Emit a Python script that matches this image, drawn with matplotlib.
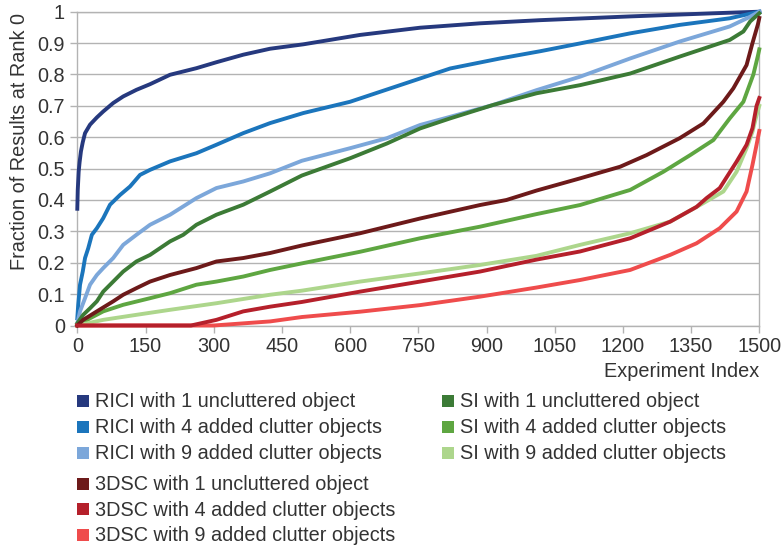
import matplotlib
matplotlib.use("Agg")
import matplotlib.pyplot as plt
from matplotlib.patches import Rectangle

plt.rcParams['font.family'] = ['Liberation Sans', 'DejaVu Sans']

# Sorted per-experiment fraction of results at rank 0 (x = experiment index)
rici1_x = [0, 1, 3, 5, 8, 12, 17, 28, 43, 57, 79, 101, 130, 160, 204, 262, 306, 365, 424, 497,
           622, 754, 886, 1018, 1216, 1400, 1500]
rici1_y = [0.372, 0.432, 0.49, 0.52, 0.555, 0.584, 0.613, 0.64, 0.663, 0.682, 0.709, 0.73, 0.751,
           0.769, 0.799, 0.82, 0.839, 0.863, 0.882, 0.896, 0.926, 0.949, 0.963, 0.973, 0.985, 0.995, 1.0]

rici4_x = [0, 2, 6, 12, 17, 24, 32, 43, 57, 72, 94, 116, 138, 160, 204, 262, 306, 365, 424, 497,
           600, 710, 820, 930, 1018, 1106, 1216, 1325, 1435, 1500]
rici4_y = [0.023, 0.066, 0.13, 0.172, 0.215, 0.246, 0.289, 0.31, 0.342, 0.385, 0.416, 0.443, 0.48,
           0.496, 0.523, 0.549, 0.576, 0.613, 0.645, 0.677, 0.713, 0.766, 0.819, 0.851, 0.874, 0.899,
           0.931, 0.958, 0.979, 1.0]

rici9_x = [0, 6, 17, 28, 43, 57, 79, 101, 130, 160, 204, 262, 306, 365, 424, 494, 600, 681, 754,
           820, 915, 1010, 1106, 1216, 1325, 1435, 1480, 1500]
rici9_y = [0.007, 0.045, 0.087, 0.13, 0.161, 0.183, 0.215, 0.257, 0.289, 0.321, 0.353, 0.406, 0.438,
           0.459, 0.485, 0.525, 0.565, 0.597, 0.639, 0.665, 0.703, 0.75, 0.793, 0.851, 0.905, 0.953,
           0.984, 1.0]

si1_x = [0, 13, 28, 43, 57, 79, 101, 130, 160, 204, 233, 262, 306, 365, 424, 494, 600, 681, 754,
         820, 915, 1010, 1106, 1216, 1325, 1435, 1465, 1480, 1500]
si1_y = [0.007, 0.034, 0.055, 0.077, 0.108, 0.14, 0.172, 0.204, 0.225, 0.268, 0.289, 0.321, 0.353,
         0.385, 0.427, 0.478, 0.533, 0.58, 0.628, 0.66, 0.703, 0.74, 0.766, 0.803, 0.857, 0.91, 0.937,
         0.969, 0.995]

si4_x = [0, 28, 57, 101, 160, 204, 262, 306, 365, 424, 494, 622, 754, 886, 1010, 1106, 1216, 1289,
         1348, 1399, 1435, 1465, 1487, 1497, 1500]
si4_y = [0.0, 0.023, 0.045, 0.066, 0.087, 0.103, 0.13, 0.14, 0.156, 0.177, 0.198, 0.235, 0.278,
         0.315, 0.355, 0.384, 0.432, 0.49, 0.543, 0.591, 0.66, 0.713, 0.80, 0.86, 0.88]

si9_x = [0, 57, 130, 204, 306, 424, 494, 622, 754, 886, 1010, 1106, 1216, 1304, 1377, 1421, 1450,
         1472, 1485, 1494, 1500]
si9_y = [0.0, 0.018, 0.034, 0.05, 0.071, 0.098, 0.111, 0.14, 0.166, 0.193, 0.222, 0.257, 0.294,
         0.331, 0.39, 0.427, 0.49, 0.565, 0.618, 0.67, 0.70]

dsc1_x = [0, 13, 43, 79, 101, 130, 160, 204, 262, 306, 365, 424, 494, 622, 754, 886, 944, 1010,
          1106, 1194, 1252, 1325, 1377, 1421, 1443, 1472, 1485, 1497, 1500]
dsc1_y = [0.0, 0.018, 0.045, 0.077, 0.098, 0.119, 0.14, 0.161, 0.183, 0.204, 0.215, 0.231, 0.255,
          0.294, 0.341, 0.384, 0.40, 0.43, 0.469, 0.506, 0.543, 0.597, 0.644, 0.713, 0.756, 0.83,
          0.9, 0.96, 0.98]

dsc4_x = [0, 250, 306, 365, 424, 494, 622, 754, 886, 1010, 1106, 1216, 1304, 1362, 1384, 1413,
          1450, 1472, 1485, 1494, 1500]
dsc4_y = [0.0, 0.0, 0.018, 0.045, 0.06, 0.075, 0.108, 0.14, 0.172, 0.21, 0.236, 0.278, 0.331,
          0.378, 0.406, 0.438, 0.522, 0.576, 0.629, 0.70, 0.725]

dsc9_x = [0, 300, 424, 494, 622, 754, 886, 1010, 1106, 1216, 1304, 1362, 1413, 1450, 1472, 1485,
          1494, 1500]
dsc9_y = [0.0, 0.0, 0.013, 0.027, 0.044, 0.065, 0.092, 0.121, 0.145, 0.177, 0.225, 0.262, 0.31,
          0.363, 0.427, 0.512, 0.576, 0.62]

labels = {
    'rici1': 'RICI with 1 uncluttered object',
    'rici4': 'RICI with 4 added clutter objects',
    'rici9': 'RICI with 9 added clutter objects',
    'si1': 'SI with 1 uncluttered object',
    'si4': 'SI with 4 added clutter objects',
    'si9': 'SI with 9 added clutter objects',
    'dsc1': '3DSC with 1 uncluttered object',
    'dsc4': '3DSC with 4 added clutter objects',
    'dsc9': '3DSC with 9 added clutter objects',
}
colors = {
    'rici1': '#26397e', 'rici4': '#1b75bc', 'rici9': '#7ca7da',
    'si1': '#3c7b36', 'si4': '#5ea641', 'si9': '#add68c',
    'dsc1': '#6d1a1a', 'dsc4': '#b5202b', 'dsc9': '#ef4c4c',
}
series = {
    'rici1': (rici1_x, rici1_y), 'rici4': (rici4_x, rici4_y), 'rici9': (rici9_x, rici9_y),
    'si1': (si1_x, si1_y), 'si4': (si4_x, si4_y), 'si9': (si9_x, si9_y),
    'dsc1': (dsc1_x, dsc1_y), 'dsc4': (dsc4_x, dsc4_y), 'dsc9': (dsc9_x, dsc9_y),
}
draw_order = ['rici1', 'rici4', 'rici9', 'si1', 'si4', 'si9', 'dsc9', 'dsc1', 'dsc4']

x_ticks = list(range(0, 1501, 150))
y_ticks = [i / 10 for i in range(11)]
y_tick_labels = ['0', '0.1', '0.2', '0.3', '0.4', '0.5', '0.6', '0.7', '0.8', '0.9', '1']

W, H = 783, 548
fig = plt.figure(figsize=(W / 100, H / 100), dpi=100)
ax = fig.add_axes([77.3 / W, 1 - 325.5 / H, 682 / W, 313.8 / H])

text_col = '#333333'
grid_col = '#b3b3b3'
fs = 14.3

for key in draw_order:
    xs, ys = series[key]
    ax.plot(xs, ys, color=colors[key], lw=2.8, solid_joinstyle='round', clip_on=False, zorder=3)

ax.set_xlim(0, 1500)
ax.set_ylim(0, 1)
ax.set_xticks(x_ticks)
ax.set_yticks(y_ticks)
ax.set_yticklabels(y_tick_labels)
ax.yaxis.grid(True, color=grid_col, lw=1.0, zorder=0)
ax.set_axisbelow(True)
for side in ['left', 'right', 'bottom', 'top']:
    ax.spines[side].set_color(grid_col)
    ax.spines[side].set_linewidth(1.0)
ax.tick_params(axis='both', colors=grid_col, labelcolor=text_col, labelsize=fs, length=5,
               width=1.0)
ax.tick_params(axis='y', pad=4)
ax.tick_params(axis='x', pad=3.5)

fig.text(759.3 / W, 1 - 376.7 / H, 'Experiment Index', ha='right', va='baseline',
         fontsize=fs, color=text_col)
fig.text(20 / W, 1 - 141 / H, 'Fraction of Results at Rank 0', rotation=90, ha='center',
         va='center', fontsize=fs, color=text_col)

# Legend: two columns of colour swatches with labels
legend_rows = [
    ('rici1', 77.3, 407.3), ('rici4', 77.3, 433.1), ('rici9', 77.3, 459.0),
    ('dsc1', 77.3, 490.0), ('dsc4', 77.3, 515.7), ('dsc9', 77.3, 541.3),
    ('si1', 442.0, 407.3), ('si4', 442.0, 433.1), ('si9', 442.0, 459.0),
]
for key, lx, base in legend_rows:
    sq = 12.0
    fig.patches.append(Rectangle((lx / W, 1 - (base - 0.5) / H), sq / W, sq / H,
                                 transform=fig.transFigure, facecolor=colors[key],
                                 edgecolor='none'))
    fig.text((lx + 17.7) / W, 1 - base / H, labels[key], ha='left', va='baseline',
             fontsize=fs, color=text_col)

fig.savefig('out.png', dpi=100)
